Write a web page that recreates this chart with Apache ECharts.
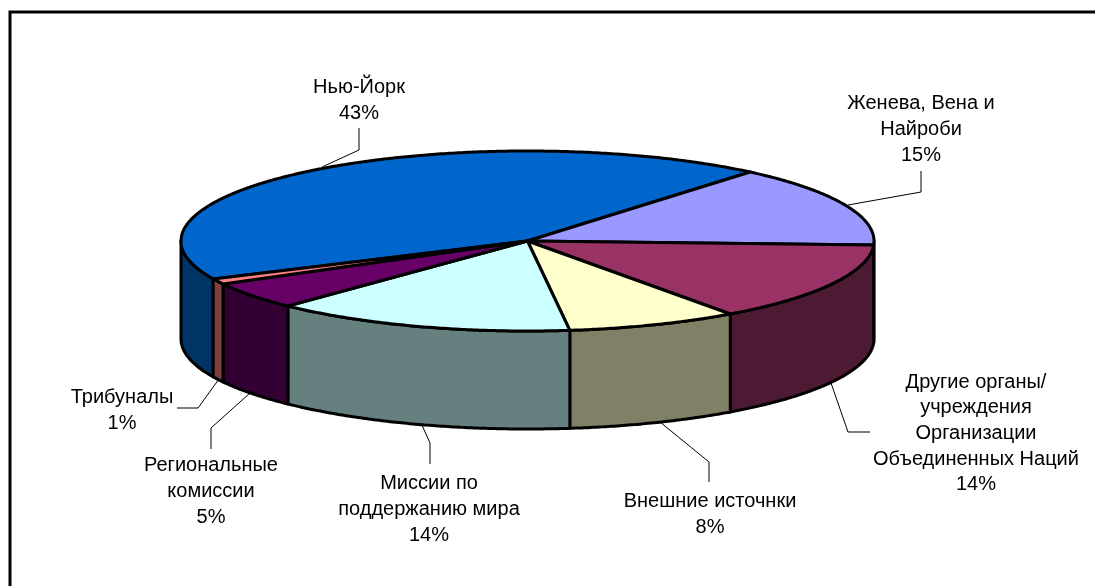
<!DOCTYPE html>
<html>
<head>
<meta charset="utf-8">
<style>html,body{margin:0;padding:0;background:#fff}#c{width:1095px;height:586px}</style>
<script src="https://cdn.jsdelivr.net/npm/echarts@6/dist/echarts.min.js"></script>
</head>
<body>
<div id="c"></div>
<script>
const categories = ['Нью-Йорк', 'Женева, Вена и\nНайроби', 'Другие органы/\nучреждения\nОрганизации\nОбъединенных Наций', 'Внешние источнки', 'Миссии по\nподдержанию мира', 'Региональные\nкомиссии', 'Трибуналы'];
const values = [43.03, 14.58, 14.36, 8, 14.1, 4.93, 1];
const topColors = ['#0066CC', '#9999FF', '#993366', '#FFFFCC', '#CCFFFF', '#660066', '#FF8080'];
const wallColors = ['#003366', '#4D4D80', '#4D1A33', '#808066', '#668080', '#330033', '#804040'];

// Layout only (no data)
const CX = 527.5, CY = 241, RX = 346.5, RY = 90, DEPTH = 98;
const FIRST_SLICE_END = 50; // degrees, math orientation; Женева starts here going clockwise
const labelCentres = [[359, 100.5], [921, 129.5], [976, 433.5], [710, 514.5], [429, 509.5], [211, 491.5], [122, 410.5]];
const leaders = [
  [[322, 167], [359, 150], [359, 128]],
  [[848, 205], [921, 192], [921, 171]],
  [[831, 383], [848, 432], [870, 432]],
  [[660, 422], [709, 462], [709, 482]],
  [[421, 423], [430, 443], [430, 464]],
  [[250, 393], [211, 428], [211, 449]],
  [[219, 379], [198, 408], [177, 408]]
];

const total = values.reduce((a, b) => a + b, 0);
// Angular range of each slice: Нью-Йорк (index 0) ends at FIRST_SLICE_END going clockwise
function sliceRange(i) {
  let a = FIRST_SLICE_END + values[0] / total * 360;
  for (let k = 0; k < i; k++) a -= values[k] / total * 360;
  return [a, a - values[i] / total * 360];
}
const pt = (deg, dy) => [CX + RX * Math.cos(deg * Math.PI / 180), CY - RY * Math.sin(deg * Math.PI / 180) + (dy || 0)];
function arc(from, to, dy) {
  const pts = [], n = Math.max(2, Math.ceil(Math.abs(from - to) * 2));
  for (let k = 0; k <= n; k++) pts.push(pt(from + (to - from) * k / n, dy));
  return pts;
}

const stroke = { stroke: '#000', lineWidth: 3, lineJoin: 'round' };

function renderWall(params, api) {
  const i = params.dataIndex;
  let [a, b] = sliceRange(i);
  // the visible front of the cylinder lies between 360 and 180 degrees (going clockwise)
  const shifts = [0, 360, -360];
  const parts = [];
  shifts.forEach(s => {
    const hi = Math.min(a + s, 360), lo = Math.max(b + s, 180);
    if (hi > lo) {
      parts.push({
        type: 'polygon',
        shape: { points: arc(hi, lo, 0).concat(arc(lo, hi, DEPTH)) },
        style: Object.assign({ fill: wallColors[i] }, stroke)
      });
    }
  });
  return { type: 'group', children: parts };
}
function renderTop(params, api) {
  const i = params.dataIndex;
  const [a, b] = sliceRange(i);
  return {
    type: 'polygon',
    shape: { points: [[CX, CY]].concat(arc(a, b, 0)) },
    style: Object.assign({ fill: topColors[i] }, stroke)
  };
}
function renderLabel(params, api) {
  const i = params.dataIndex;
  const pct = Math.round(api.value(0));
  return {
    type: 'group',
    children: [
      {
        type: 'polyline',
        shape: { points: leaders[i] },
        style: { stroke: '#000', lineWidth: 1, fill: 'none' }
      },
      {
        type: 'text',
        style: {
          text: categories[i] + '\n' + pct + '%',
          x: labelCentres[i][0],
          y: labelCentres[i][1],
          align: 'center',
          verticalAlign: 'middle',
          fill: '#000',
          font: '20px "Liberation Sans", Arial, sans-serif',
          lineHeight: 25.6
        }
      }
    ]
  };
}

const seriesData = values.map((v, i) => ({ name: categories[i], value: [v] }));
const chart = echarts.init(document.getElementById('c'), null, { renderer: 'canvas' });
chart.setOption({
  animation: false,
  backgroundColor: '#fff',
  graphic: [{
    type: 'rect',
    shape: { x: 10, y: 12, width: 1300, height: 800 },
    style: { fill: 'none', stroke: '#000', lineWidth: 3 },
    silent: true
  }],
  series: [
    { type: 'custom', coordinateSystem: 'none', z: 2, renderItem: renderWall, data: seriesData, silent: true },
    { type: 'custom', coordinateSystem: 'none', z: 3, renderItem: renderTop, data: seriesData, silent: true },
    { type: 'custom', coordinateSystem: 'none', z: 4, renderItem: renderLabel, data: seriesData, silent: true }
  ]
});
</script>
</body>
</html>
